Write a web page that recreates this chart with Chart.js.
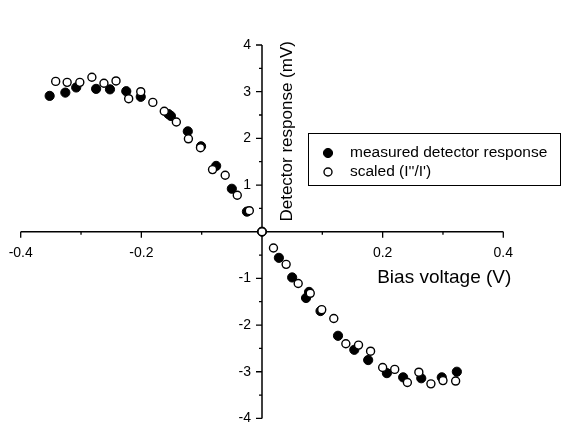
<!DOCTYPE html>
<html>
<head>
<meta charset="utf-8">
<script src="https://cdn.jsdelivr.net/npm/chart.js@4/dist/chart.umd.min.js"></script>
<style>
  html, body { margin: 0; padding: 0; background: #fff; }
  #wrap { width: 564px; height: 424px; }
</style>
</head>
<body>
<div id="wrap"><canvas id="chart1" width="564" height="424"></canvas></div>
<script>
// values
const measuredX = [-0.352, -0.326, -0.308, -0.275, -0.252, -0.225, -0.201, -0.155, -0.151, -0.123, -0.101, -0.076, -0.050, -0.025, 0,
  0.028, 0.050, 0.073, 0.078, 0.097, 0.126, 0.153, 0.176, 0.207, 0.234, 0.264, 0.298, 0.323];
const measuredY = [2.91, 2.98, 3.09, 3.06, 3.05, 3.01, 2.89, 2.52, 2.48, 2.15, 1.83, 1.41, 0.92, 0.43, 0,
  -0.56, -0.98, -1.42, -1.29, -1.70, -2.23, -2.53, -2.75, -3.03, -3.12, -3.14, -3.12, -3.00];

const scaledX = [-0.342, -0.323, -0.302, -0.282, -0.262, -0.242, -0.221, -0.201, -0.181, -0.162, -0.142, -0.122, -0.102, -0.082, -0.061, -0.041, -0.021, 0,
  0.019, 0.040, 0.060, 0.080, 0.099, 0.119, 0.139, 0.160, 0.180, 0.200, 0.220, 0.241, 0.260, 0.280, 0.300, 0.321];
const scaledY = [3.22, 3.20, 3.20, 3.31, 3.18, 3.23, 2.85, 3.00, 2.77, 2.58, 2.35, 1.99, 1.80, 1.33, 1.21, 0.78, 0.45, 0,
  -0.35, -0.70, -1.11, -1.32, -1.67, -1.86, -2.40, -2.43, -2.56, -2.91, -2.95, -3.23, -3.01, -3.26, -3.19, -3.20];

const xTickLabels = [-0.4, -0.2, 0.2, 0.4];
const yTickLabels = [-4, -3, -2, -1, 1, 2, 3, 4];
const seriesNames = ['measured detector response', "scaled (I''/I')"];
const xTitle = 'Bias voltage (V)';
const yTitle = 'Detector response (mV)';

const toPoints = (xs, ys) => xs.map((x, i) => ({x: x, y: ys[i]}));

const FONT = '"Liberation Sans", Arial, sans-serif';

// axes crossing at the origin, drawn with the chart's own scales
const crossAxes = {
  id: 'crossAxes',
  beforeDatasetsDraw(chart) {
    const ctx = chart.ctx;
    const xs = chart.scales.x, ys = chart.scales.y;
    const x0 = xs.getPixelForValue(0), y0 = ys.getPixelForValue(0);
    ctx.save();
    ctx.strokeStyle = '#000';
    ctx.lineWidth = 1.5;
    ctx.beginPath();
    ctx.moveTo(xs.getPixelForValue(-0.4), y0);
    ctx.lineTo(xs.getPixelForValue(0.4), y0);
    ctx.moveTo(x0, ys.getPixelForValue(4));
    ctx.lineTo(x0, ys.getPixelForValue(-4));
    ctx.stroke();

    ctx.lineWidth = 1.3;
    ctx.beginPath();
    for (let v = -4; v <= 4; v++) {
      if (v === 0) continue;
      const px = xs.getPixelForValue(v / 10);
      const len = v % 2 === 0 ? 6 : 3;
      ctx.moveTo(px, y0);
      ctx.lineTo(px, y0 + len);
    }
    for (let v = -8; v <= 8; v++) {
      if (v === 0) continue;
      const py = ys.getPixelForValue(v / 2);
      const len = v % 2 === 0 ? 6 : 3;
      ctx.moveTo(x0, py);
      ctx.lineTo(x0 - len, py);
    }
    ctx.stroke();

    ctx.fillStyle = '#000';
    ctx.font = '14px ' + FONT;
    ctx.textAlign = 'center';
    ctx.textBaseline = 'middle';
    xTickLabels.forEach(v => {
      ctx.fillText(String(v), xs.getPixelForValue(v), y0 + 21);
    });
    ctx.textAlign = 'right';
    yTickLabels.forEach(v => {
      ctx.fillText(String(v), x0 - 11, ys.getPixelForValue(v));
    });
    ctx.restore();
  },
  afterDraw(chart) {
    const ctx = chart.ctx;
    const xs = chart.scales.x, ys = chart.scales.y;
    const x0 = xs.getPixelForValue(0), y0 = ys.getPixelForValue(0);
    ctx.save();
    ctx.fillStyle = '#000';
    ctx.font = '19px ' + FONT;
    ctx.textAlign = 'right';
    ctx.textBaseline = 'middle';
    ctx.fillText(xTitle, xs.getPixelForValue(0.4) + 8, y0 + 46);

    ctx.translate(x0 + 25, ys.getPixelForValue(2.15));
    ctx.rotate(-Math.PI / 2);
    ctx.font = '17px ' + FONT;
    ctx.textAlign = 'center';
    ctx.fillText(yTitle, 0, 0);
    ctx.restore();

    // legend box
    ctx.save();
    ctx.fillStyle = '#fff';
    ctx.fillRect(308.5, 133.5, 252, 52);
    ctx.strokeStyle = '#000';
    ctx.lineWidth = 1;
    ctx.strokeRect(308.5, 133.5, 252, 52);
    const rows = [153, 172];
    chart.data.datasets.forEach((ds, i) => {
      ctx.beginPath();
      ctx.arc(328, rows[i], ds.pointRadius, 0, Math.PI * 2);
      ctx.fillStyle = ds.pointBackgroundColor;
      ctx.fill();
      ctx.lineWidth = ds.pointBorderWidth;
      ctx.strokeStyle = '#000';
      ctx.stroke();
      ctx.fillStyle = '#000';
      ctx.font = '15.5px ' + FONT;
      ctx.textAlign = 'left';
      ctx.textBaseline = 'middle';
      ctx.fillText(ds.label, 350, rows[i]);
    });
    ctx.restore();
  }
};

const ctx = document.getElementById('chart1').getContext('2d');
new Chart(ctx, {
  type: 'scatter',
  data: {
    datasets: [
      {
        label: seriesNames[0],
        data: toPoints(measuredX, measuredY),
        pointRadius: 4.6,
        pointBackgroundColor: '#000',
        pointBorderColor: '#000',
        pointBorderWidth: 1,
        order: 2
      },
      {
        label: seriesNames[1],
        data: toPoints(scaledX, scaledY),
        pointRadius: 4,
        pointBackgroundColor: '#fff',
        pointBorderColor: '#000',
        pointBorderWidth: 1.4,
        order: 1
      }
    ]
  },
  options: {
    responsive: false,
    animation: false,
    layout: { padding: { left: 20.7, right: 60.7, top: 45, bottom: 5.5 } },
    scales: {
      x: { type: 'linear', min: -0.4, max: 0.4, display: false },
      y: { type: 'linear', min: -4, max: 4, display: false }
    },
    plugins: {
      legend: { display: false },
      tooltip: { enabled: false }
    },
    events: []
  },
  plugins: [crossAxes]
});
</script>
</body>
</html>
